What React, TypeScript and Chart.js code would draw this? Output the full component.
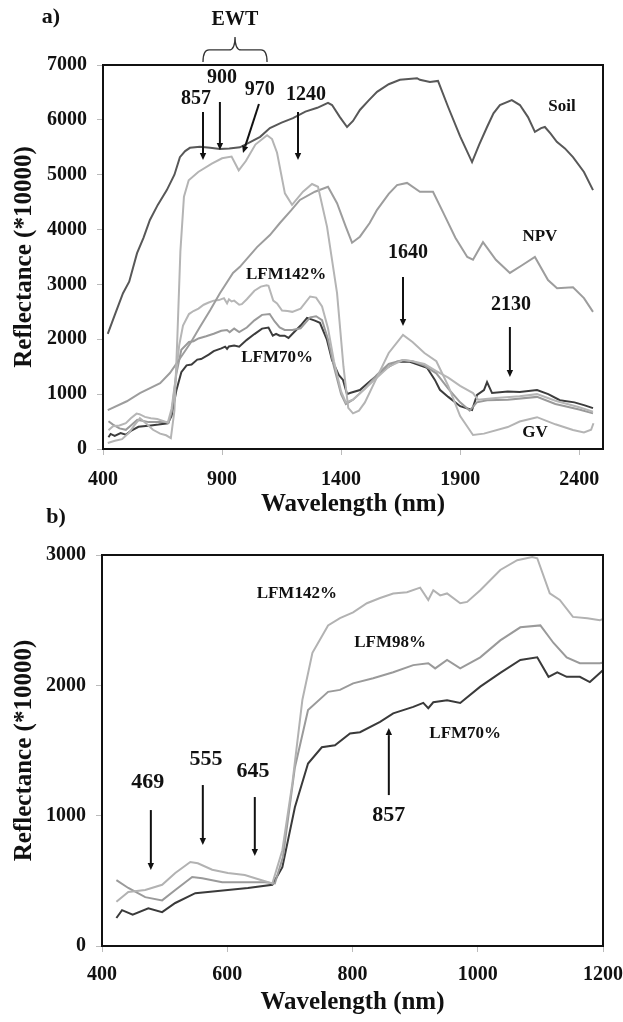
import React, { useEffect, useRef } from 'react';
import { Chart, registerables } from 'chart.js';

Chart.register(...registerables);

const FONT = '"Liberation Serif", "Times New Roman", serif';

// ---------- Data (wavelength nm / reflectance *10000) ----------
const soilWl = [420, 450, 484, 510, 543, 570, 597, 630, 668, 700, 723, 745, 765, 807, 850, 891, 930, 975, 1020, 1060, 1101, 1150, 1198, 1250, 1300, 1345, 1362, 1395, 1425, 1450, 1479, 1515, 1551, 1600, 1647, 1719, 1731, 1773, 1807, 1850, 1900, 1950, 1980, 2013, 2040, 2067, 2117, 2151, 2185, 2214, 2240, 2256, 2280, 2306, 2340, 2374, 2420, 2458];
const soilRef = [2100, 2450, 2840, 3050, 3570, 3850, 4175, 4450, 4720, 5000, 5320, 5430, 5490, 5510, 5490, 5470, 5480, 5500, 5600, 5690, 5850, 5950, 6030, 6150, 6220, 6310, 6270, 6050, 5870, 5980, 6180, 6350, 6510, 6650, 6730, 6760, 6730, 6690, 6710, 6230, 5700, 5230, 5550, 5870, 6120, 6270, 6360, 6270, 6050, 5780, 5850, 5870, 5750, 5600, 5480, 5320, 5050, 4720];

const npvWl = [420, 500, 555, 640, 681, 731, 770, 807, 850, 891, 946, 975, 1047, 1101, 1143, 1190, 1227, 1290, 1345, 1383, 1420, 1446, 1479, 1520, 1551, 1600, 1635, 1677, 1731, 1786, 1830, 1880, 1930, 1954, 1996, 2050, 2109, 2160, 2214, 2269, 2307, 2374, 2420, 2458];
const npvRef = [710, 870, 1020, 1200, 1385, 1700, 1950, 2225, 2530, 2840, 3210, 3320, 3680, 3900, 4120, 4350, 4540, 4690, 4780, 4480, 4050, 3760, 3870, 4120, 4360, 4650, 4810, 4850, 4690, 4690, 4300, 3850, 3500, 3450, 3770, 3450, 3210, 3350, 3500, 3080, 2930, 2950, 2750, 2500];

const gvWl = [420, 450, 480, 510, 530, 555, 580, 610, 640, 665, 685, 700, 712, 725, 740, 760, 800, 857, 900, 940, 970, 1000, 1040, 1089, 1110, 1131, 1164, 1194, 1240, 1278, 1303, 1341, 1383, 1410, 1430, 1450, 1475, 1500, 1550, 1600, 1660, 1700, 1750, 1800, 1850, 1900, 1954, 2000, 2100, 2150, 2223, 2300, 2374, 2420, 2450, 2460];
const gvRef = [110, 150, 180, 300, 420, 560, 470, 350, 280, 250, 200, 700, 2000, 3600, 4600, 4900, 5050, 5200, 5300, 5330, 5080, 5250, 5550, 5720, 5650, 5400, 4660, 4450, 4690, 4830, 4780, 4050, 2840, 1500, 750, 650, 700, 850, 1300, 1750, 2080, 1950, 1750, 1600, 1150, 600, 255, 280, 400, 500, 580, 450, 345, 300, 350, 470];

const lfm142Wl = [423, 442, 469, 496, 517, 541, 553, 576, 601, 628, 655, 672, 688, 704, 720, 736, 761, 780, 801, 823, 844, 865, 887, 908, 921, 929, 940, 951, 972, 983, 1004, 1036, 1063, 1087, 1095, 1115, 1131, 1152, 1175, 1195, 1230, 1270, 1295, 1320, 1345, 1370, 1400, 1420, 1450, 1500, 1550, 1600, 1660, 1700, 1750, 1800, 1850, 1900, 1954, 1975, 2050, 2150, 2223, 2300, 2400, 2458];
const lfm142Ref = [340, 415, 430, 470, 560, 645, 635, 585, 560, 545, 505, 480, 735, 1250, 1890, 2250, 2460, 2515, 2560, 2630, 2670, 2705, 2715, 2750, 2655, 2730, 2690, 2705, 2630, 2640, 2730, 2885, 2960, 2985, 2975, 2705, 2655, 2525, 2515, 2500, 2560, 2780, 2760, 2600, 2200, 1600, 1050, 850, 900, 1100, 1300, 1500, 1620, 1600, 1550, 1420, 1300, 1150, 1020, 900, 930, 960, 1000, 880, 760, 680];

const lfm98Wl = [423, 442, 469, 496, 517, 544, 560, 592, 628, 660, 676, 689, 708, 729, 761, 780, 801, 833, 865, 897, 921, 932, 951, 972, 1004, 1036, 1068, 1100, 1121, 1142, 1163, 1195, 1230, 1270, 1295, 1320, 1345, 1370, 1400, 1420, 1450, 1500, 1550, 1600, 1660, 1700, 1750, 1800, 1850, 1900, 1940, 1970, 2013, 2100, 2223, 2300, 2400, 2458];
const lfm98Ref = [505, 445, 375, 350, 430, 530, 520, 490, 490, 490, 480, 685, 1370, 1810, 1950, 1965, 2015, 2055, 2100, 2155, 2170, 2130, 2195, 2130, 2215, 2345, 2445, 2460, 2325, 2215, 2170, 2170, 2200, 2400, 2420, 2350, 2000, 1500, 1000, 820, 900, 1100, 1350, 1550, 1620, 1600, 1520, 1380, 1100, 850, 700, 850, 890, 900, 950, 820, 720, 650];

const lfm70Wl = [423, 432, 449, 474, 496, 517, 549, 569, 601, 633, 672, 688, 708, 729, 751, 772, 796, 812, 844, 865, 897, 913, 921, 929, 951, 972, 1004, 1036, 1068, 1095, 1113, 1127, 1142, 1163, 1179, 1195, 1230, 1257, 1290, 1311, 1340, 1362, 1390, 1408, 1425, 1437, 1479, 1520, 1563, 1600, 1635, 1689, 1761, 1794, 1815, 1850, 1900, 1950, 1971, 2000, 2013, 2034, 2100, 2150, 2223, 2270, 2319, 2380, 2420, 2458];
const lfm70Ref = [215, 275, 240, 290, 260, 330, 405, 415, 430, 445, 470, 605, 1065, 1400, 1525, 1540, 1630, 1640, 1720, 1785, 1835, 1865, 1825, 1870, 1885, 1865, 1990, 2095, 2195, 2215, 2065, 2100, 2065, 2065, 2025, 2095, 2250, 2390, 2340, 2300, 2000, 1620, 1350, 1260, 1000, 1020, 1075, 1230, 1385, 1500, 1590, 1590, 1480, 1260, 1080, 950, 780, 710, 985, 1075, 1220, 1020, 1050, 1040, 1075, 1000, 890, 850, 800, 745];

// Tick labels
const topXTicks = [400, 900, 1400, 1900, 2400];
const topYTicks = [0, 1000, 2000, 3000, 4000, 5000, 6000, 7000];
const botXTicks = [400, 600, 800, 1000, 1200];
const botYTicks = [0, 1000, 2000, 3000];

// ---------- Annotations (data coordinates) ----------
const topLabels = [
  { text: 'EWT', x: 954, y: 7830, size: 20 },
  { text: '857', x: 791, y: 6380, size: 20 },
  { text: '900', x: 900, y: 6763, size: 20 },
  { text: '970', x: 1058, y: 6545, size: 20 },
  { text: '1240', x: 1253, y: 6453, size: 20 },
  { text: '1640', x: 1681, y: 3573, size: 20 },
  { text: '2130', x: 2114, y: 2625, size: 20 },
  { text: 'Soil', x: 2328, y: 6235, size: 17 },
  { text: 'NPV', x: 2235, y: 3865, size: 17 },
  { text: 'GV', x: 2214, y: 292, size: 17 },
  { text: 'LFM142%', x: 1169, y: 3172, size: 17 },
  { text: 'LFM70%', x: 1131, y: 1659, size: 17 },
];
const topArrows = [
  { x1: 820, y1: 6143, x2: 820, y2: 5268 },
  { x1: 891, y1: 6326, x2: 891, y2: 5451 },
  { x1: 1055, y1: 6290, x2: 988, y2: 5396 },
  { x1: 1219, y1: 6143, x2: 1219, y2: 5268 },
  { x1: 1660, y1: 3136, x2: 1660, y2: 2242 },
  { x1: 2109, y1: 2224, x2: 2109, y2: 1313 },
];
const topBrace = { x1: 820, x2: 1089, yEnd: 7055, yMid: 7274, yTip: 7511 };

const botLabels = [
  { text: '469', x: 473, y: 1258, size: 22 },
  { text: '555', x: 566, y: 1434, size: 22 },
  { text: '645', x: 641, y: 1342, size: 22 },
  { text: '857', x: 858, y: 1005, size: 22 },
  { text: 'LFM142%', x: 711, y: 2707, size: 17 },
  { text: 'LFM98%', x: 860, y: 2324, size: 17 },
  { text: 'LFM70%', x: 980, y: 1626, size: 17 },
];
const botArrows = [
  { x1: 478, y1: 1043, x2: 478, y2: 583 },
  { x1: 561, y1: 1235, x2: 561, y2: 775 },
  { x1: 644, y1: 1143, x2: 644, y2: 690 },
  { x1: 858, y1: 1158, x2: 858, y2: 1672 },
];

const pts = (wl: number[], r: number[]) => wl.map((x, i) => ({ x, y: r[i] }));

function annotPlugin(labels: any[], arrows: any[], brace: any, panel: { text: string; x: number; y: number }) {
  return {
    id: 'annot',
    afterDraw(chart: any) {
      const { ctx, chartArea: a } = chart;
      const xs = chart.scales.x;
      const ys = chart.scales.y;
      const px = (v: number) => xs.getPixelForValue(v);
      const py = (v: number) => ys.getPixelForValue(v);
      ctx.save();
      // frame
      ctx.strokeStyle = '#111';
      ctx.lineWidth = 2;
      ctx.strokeRect(a.left, a.top, a.right - a.left, a.bottom - a.top);
      // arrows
      ctx.fillStyle = '#111';
      for (const ar of arrows) {
        const x1 = px(ar.x1), y1 = py(ar.y1), x2 = px(ar.x2), y2 = py(ar.y2);
        const ang = Math.atan2(y2 - y1, x2 - x1);
        const L = 7, W = 3.2;
        const bx = x2 - L * Math.cos(ang), by = y2 - L * Math.sin(ang);
        ctx.lineWidth = 2;
        ctx.beginPath();
        ctx.moveTo(x1, y1);
        ctx.lineTo(bx, by);
        ctx.stroke();
        ctx.beginPath();
        ctx.moveTo(x2, y2);
        ctx.lineTo(bx + W * Math.sin(ang), by - W * Math.cos(ang));
        ctx.lineTo(bx - W * Math.sin(ang), by + W * Math.cos(ang));
        ctx.closePath();
        ctx.fill();
      }
      // brace
      if (brace) {
        const x1 = px(brace.x1), x2 = px(brace.x2), xm = (x1 + x2) / 2;
        const ye = py(brace.yEnd), ymid = py(brace.yMid), yt = py(brace.yTip);
        ctx.lineWidth = 1.3;
        ctx.strokeStyle = '#333';
        ctx.beginPath();
        ctx.moveTo(x1, ye);
        ctx.quadraticCurveTo(x1, ymid, x1 + 6, ymid);
        ctx.lineTo(xm - 6, ymid);
        ctx.quadraticCurveTo(xm, ymid, xm, yt);
        ctx.quadraticCurveTo(xm, ymid, xm + 6, ymid);
        ctx.lineTo(x2 - 6, ymid);
        ctx.quadraticCurveTo(x2, ymid, x2, ye);
        ctx.stroke();
      }
      // labels
      ctx.fillStyle = '#111';
      ctx.textAlign = 'center';
      ctx.textBaseline = 'middle';
      for (const l of labels) {
        ctx.font = `bold ${l.size}px ${FONT}`;
        ctx.fillText(l.text, px(l.x), py(l.y));
      }
      ctx.font = `bold 22px ${FONT}`;
      ctx.fillText(panel.text, panel.x, panel.y);
      ctx.restore();
    },
  };
}

function baseOptions(opts: {
  xMin: number; xMax: number; yMax: number; xTicks: number[]; yTicks: number[];
  yWidth: number; xHeight: number; padTop: number; xTickPad: number; xTitlePad: number;
}) {
  const tickFont = { family: FONT, size: 20, weight: 'bold' as const };
  const titleFont = { family: FONT, size: 25, weight: 'bold' as const };
  return {
    responsive: true,
    maintainAspectRatio: false,
    animation: false as const,
    events: [] as any[],
    layout: { padding: { left: 0, right: 20, top: opts.padTop, bottom: 0 } },
    plugins: { legend: { display: false }, tooltip: { enabled: false } },
    elements: { point: { radius: 0 }, line: { tension: 0, borderWidth: 2 } },
    scales: {
      x: {
        type: 'linear' as const,
        min: opts.xMin,
        max: opts.xMax,
        afterBuildTicks: (s: any) => { s.ticks = opts.xTicks.map((v) => ({ value: v })); },
        afterFit: (s: any) => { s.height = opts.xHeight; s.paddingLeft = 0; s.paddingRight = 0; },
        grid: { display: true, drawOnChartArea: false, drawTicks: true, tickLength: 6, color: '#bbb' },
        border: { display: false },
        ticks: { color: '#111', font: tickFont, padding: opts.xTickPad, maxRotation: 0, autoSkip: false, callback: (v: any) => String(v) },
        title: { display: true, text: 'Wavelength (nm)', color: '#111', font: titleFont, padding: { top: 0, bottom: opts.xTitlePad } },
      },
      y: {
        min: 0,
        max: opts.yMax,
        afterBuildTicks: (s: any) => { s.ticks = opts.yTicks.map((v) => ({ value: v })); },
        afterFit: (s: any) => { s.width = opts.yWidth; s.paddingTop = 0; s.paddingBottom = 0; },
        grid: { display: true, drawOnChartArea: false, drawTicks: true, tickLength: 6, color: '#bbb' },
        border: { display: false },
        ticks: { color: '#111', font: tickFont, padding: 10, autoSkip: false, callback: (v: any) => String(v) },
        title: { display: true, text: 'Reflectance (*10000)', color: '#111', font: titleFont, padding: { top: 10, bottom: 0 } },
      },
    },
  };
}

export default function App() {
  const topRef = useRef<HTMLCanvasElement>(null);
  const botRef = useRef<HTMLCanvasElement>(null);

  useEffect(() => {
    const top = new Chart(topRef.current!, {
      type: 'line',
      data: {
        datasets: [
          { label: 'GV', data: pts(gvWl, gvRef), borderColor: '#b4b4b4' },
          { label: 'NPV', data: pts(npvWl, npvRef), borderColor: '#9d9d9d' },
          { label: 'LFM142%', data: pts(lfm142Wl, lfm142Ref), borderColor: '#b6b6b6' },
          { label: 'LFM98%', data: pts(lfm98Wl, lfm98Ref), borderColor: '#9a9a9a' },
          { label: 'Soil', data: pts(soilWl, soilRef), borderColor: '#585858' },
          { label: 'LFM70%', data: pts(lfm70Wl, lfm70Ref), borderColor: '#3c3c3c' },
        ],
      },
      options: baseOptions({
        xMin: 400, xMax: 2500, yMax: 7000, xTicks: topXTicks, yTicks: topYTicks,
        yWidth: 103, xHeight: 71, padTop: 65, xTickPad: 13, xTitlePad: 0,
      }) as any,
      plugins: [annotPlugin(topLabels, topArrows, topBrace, { text: 'a)', x: 51, y: 17 })],
    });
    const bot = new Chart(botRef.current!, {
      type: 'line',
      data: {
        datasets: [
          { label: 'LFM142%', data: pts(lfm142Wl, lfm142Ref), borderColor: '#b2b2b2' },
          { label: 'LFM98%', data: pts(lfm98Wl, lfm98Ref), borderColor: '#9a9a9a' },
          { label: 'LFM70%', data: pts(lfm70Wl, lfm70Ref), borderColor: '#3a3a3a' },
        ],
      },
      options: baseOptions({
        xMin: 400, xMax: 1200, yMax: 3000, xTicks: botXTicks, yTicks: botYTicks,
        yWidth: 102, xHeight: 76, padTop: 55, xTickPad: 11, xTitlePad: 4,
      }) as any,
      plugins: [annotPlugin(botLabels, botArrows, null, { text: 'b)', x: 56, y: 17 })],
    });
    return () => { top.destroy(); bot.destroy(); };
  }, []);

  return (
    <div style={{ position: 'absolute', left: 0, top: 0, width: 623, height: 1022, background: '#fff' }}>
      <div style={{ position: 'absolute', left: 0, top: 0, width: 623, height: 520 }}>
        <canvas ref={topRef} />
      </div>
      <div style={{ position: 'absolute', left: 0, top: 500, width: 623, height: 522 }}>
        <canvas ref={botRef} />
      </div>
    </div>
  );
}
